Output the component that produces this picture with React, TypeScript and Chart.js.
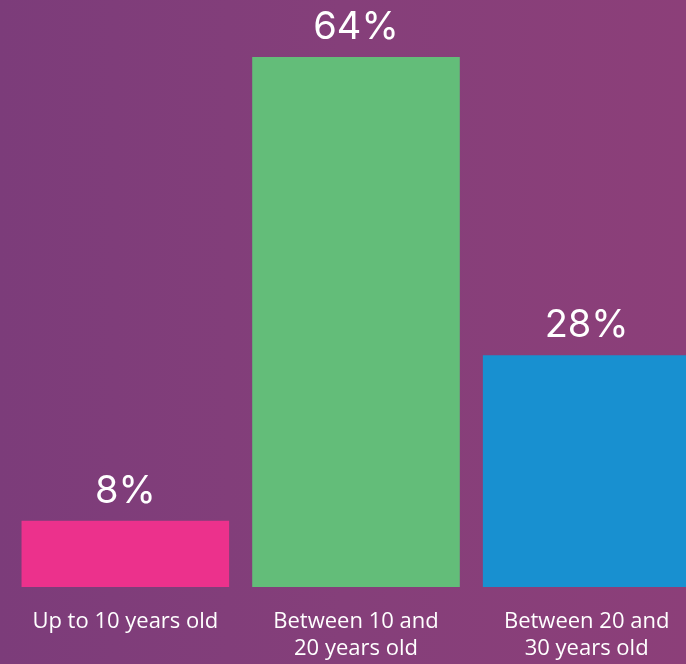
import React, { useEffect, useRef } from "react";
import { Chart, registerables } from "chart.js";

Chart.register(...registerables);

const categories: string[][] = [
  ["Up to 10 years old"],
  ["Between 10 and", "20 years old"],
  ["Between 20 and", "30 years old"],
];
const values: number[] = [8, 64, 28];
const valueLabels: string[] = ["8%", "64%", "28%"];
const barColors: string[] = ["#EC318C", "#63BD79", "#1890D0"];

const valueLabelPlugin = {
  id: "valueLabels",
  afterDatasetsDraw(chart: any) {
    const ctx = chart.ctx;
    const meta = chart.getDatasetMeta(0);
    ctx.save();
    ctx.fillStyle = "#FFFFFF";
    ctx.font = "400 38px Inter, 'Open Sans', sans-serif";
    ctx.textAlign = "center";
    ctx.textBaseline = "alphabetic";
    meta.data.forEach((bar: any, i: number) => {
      ctx.fillText(valueLabels[i], bar.x, bar.y - 18);
    });
    ctx.restore();
  },
};

export default function App() {
  const canvasRef = useRef<HTMLCanvasElement | null>(null);

  useEffect(() => {
    if (!canvasRef.current) return;
    const chart = new Chart(canvasRef.current, {
      type: "bar",
      data: {
        labels: categories,
        datasets: [
          {
            data: values,
            backgroundColor: barColors,
            borderWidth: 0,
            barPercentage: 0.9,
            categoryPercentage: 1.0,
          },
        ],
      },
      options: {
        animation: false,
        responsive: true,
        maintainAspectRatio: false,
        layout: { padding: { top: 57, left: 10, right: 0, bottom: 0 } },
        plugins: {
          legend: { display: false },
          tooltip: { enabled: false },
        },
        scales: {
          x: {
            grid: { display: false, drawTicks: false },
            border: { display: false },
            ticks: {
              color: "#FFFFFF",
              padding: 21,
              font: { family: "'Open Sans', sans-serif", size: 22, lineHeight: 1.22 },
              maxRotation: 0,
              autoSkip: false,
            },
            afterFit: (scale: any) => {
              scale.height = 77;
            },
          },
          y: {
            display: false,
            min: 0,
            max: 64,
          },
        },
      },
      plugins: [valueLabelPlugin],
    });
    return () => chart.destroy();
  }, []);

  return (
    <div
      style={{
        position: "fixed",
        left: 0,
        top: 0,
        width: 686,
        height: 664,
        overflow: "hidden",
        background: "linear-gradient(to right, #7C3C7A 0%, #853F7A 50%, #8C3F79 100%)",
      }}
    >
      <div style={{ position: "absolute", left: 0, top: 0, width: 702, height: 664 }}>
        <canvas ref={canvasRef} />
      </div>
    </div>
  );
}
